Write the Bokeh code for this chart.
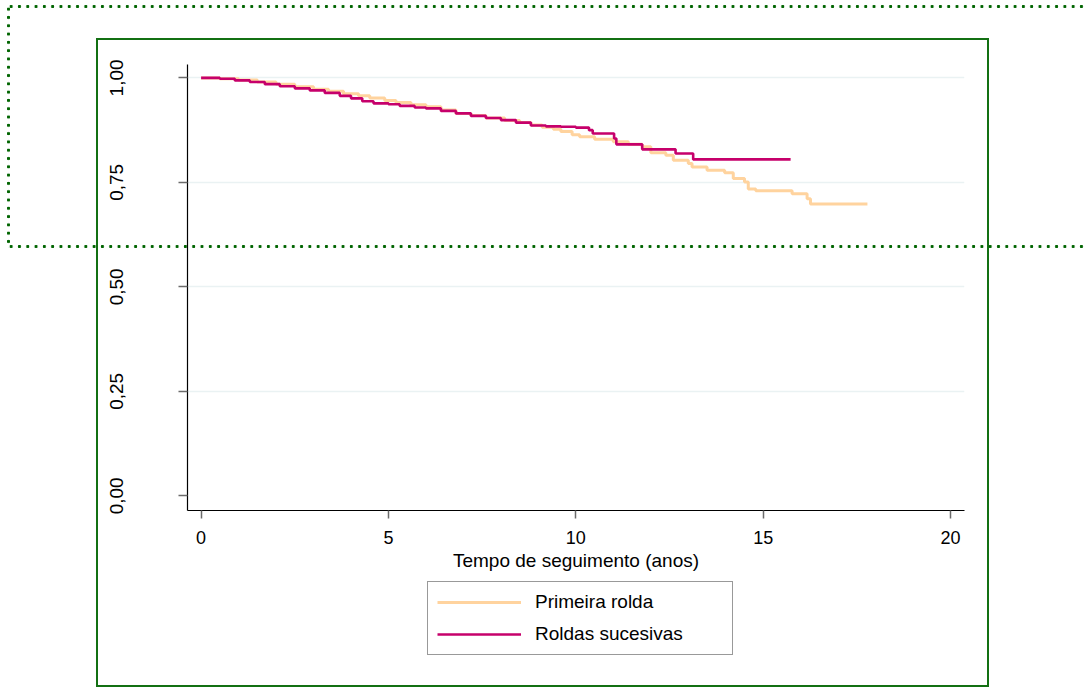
from bokeh.plotting import figure
from bokeh.layouts import column
from bokeh.models import (FixedTicker, Legend, LegendItem, Range1d, InlineStyleSheet)
from bokeh.embed import file_html
from bokeh.resources import INLINE

# Kaplan-Meier survival estimates by cohort
primeira_t = [0.0, 0.5, 1.0, 1.5, 2.0, 2.5, 3.0, 3.4, 3.8, 4.2, 4.5, 4.9, 5.2, 5.6, 6.0,
              6.4, 6.8, 7.2, 7.6, 8.1, 8.5, 8.8, 9.1, 9.4, 9.6, 9.9, 10.1, 10.5, 11.0,
              11.4, 11.77, 12.0, 12.4, 12.6, 13.0, 13.1, 13.5, 13.97, 14.2, 14.5, 14.6,
              14.8, 15.77, 16.17, 16.26, 17.78]
primeira_s = [1.000, 0.998, 0.995, 0.990, 0.985, 0.979, 0.973, 0.968, 0.962, 0.957, 0.952,
              0.946, 0.941, 0.936, 0.931, 0.923, 0.915, 0.910, 0.904, 0.898, 0.893, 0.887,
              0.882, 0.877, 0.872, 0.864, 0.859, 0.853, 0.847, 0.841, 0.835, 0.821, 0.815,
              0.803, 0.795, 0.787, 0.779, 0.773, 0.759, 0.751, 0.734, 0.730, 0.723, 0.711,
              0.698, 0.698]

sucesivas_t = [0.0, 0.5, 0.9, 1.3, 1.7, 2.1, 2.5, 2.9, 3.3, 3.7, 4.0, 4.3, 4.6, 5.0, 5.3,
               5.7, 6.0, 6.4, 6.8, 7.2, 7.6, 8.0, 8.4, 8.8, 9.2, 9.6, 10.0, 10.35, 10.45,
               11.02, 11.08, 11.77, 12.66, 13.13, 15.73]
sucesivas_s = [1.000, 0.998, 0.994, 0.990, 0.985, 0.980, 0.975, 0.970, 0.964, 0.957, 0.951,
               0.944, 0.939, 0.937, 0.933, 0.929, 0.927, 0.921, 0.915, 0.909, 0.904, 0.899,
               0.893, 0.886, 0.884, 0.883, 0.881, 0.875, 0.867, 0.855, 0.841, 0.829, 0.819,
               0.805, 0.805]

y_ticks = [0.0, 0.25, 0.5, 0.75, 1.0]
y_tick_labels = ["0,00", "0,25", "0,50", "0,75", "1,00"]
x_ticks = [0, 5, 10, 15, 20]
series_names = ["Primeira rolda", "Roldas sucesivas"]
series_colors = ["#FFD39E", "#C6006B"]
series_widths = [3, 2.6]

FONT = "Liberation Sans"

# ---- survival curves ----
p = figure(frame_width=777, frame_height=446, output_backend="svg", toolbar_location=None,
           x_range=Range1d(-0.363, 20.37), y_range=Range1d(-0.035, 1.032),
           min_border_left=187, min_border_right=122, min_border_top=64,
           min_border_bottom=70)
p.outline_line_color = None
p.background_fill_color = "white"
p.border_fill_color = None

p.step(primeira_t, primeira_s, mode="after",
       line_color=series_colors[0], line_width=series_widths[0])
p.step(sucesivas_t, sucesivas_s, mode="after",
       line_color=series_colors[1], line_width=series_widths[1])

p.xgrid.visible = False
p.ygrid.ticker = FixedTicker(ticks=[0.25, 0.5, 0.75, 1.0])
p.ygrid.grid_line_color = "#EAF2F3"
p.ygrid.grid_line_width = 1.5

p.yaxis.ticker = FixedTicker(ticks=y_ticks)
p.yaxis.major_label_overrides = {t: l for t, l in zip(y_ticks, y_tick_labels)}
p.yaxis.major_label_orientation = "vertical"
p.yaxis.major_label_text_font = FONT
p.yaxis.major_label_text_font_size = "19px"
p.yaxis.major_label_text_color = "black"
p.yaxis.major_label_standoff = 55
p.yaxis.major_tick_out = 9
p.yaxis.major_tick_in = 0
p.yaxis.minor_tick_line_color = None
p.yaxis.major_tick_line_color = "#6b6b6b"
p.yaxis.major_tick_line_width = 1.5
p.yaxis.axis_line_color = "black"
p.yaxis.axis_line_width = 1.2

p.xaxis.ticker = FixedTicker(ticks=x_ticks)
p.xaxis.major_label_text_font = FONT
p.xaxis.major_label_text_font_size = "18px"
p.xaxis.major_label_text_color = "black"
p.xaxis.major_label_standoff = 12
p.xaxis.major_tick_out = 8
p.xaxis.major_tick_in = 0
p.xaxis.minor_tick_line_color = None
p.xaxis.major_tick_line_color = "#6b6b6b"
p.xaxis.major_tick_line_width = 1.5
p.xaxis.axis_line_color = "black"
p.xaxis.axis_line_width = 1.2
p.xaxis.axis_label = "Tempo de seguimento (anos)"
p.xaxis.axis_label_text_font = FONT
p.xaxis.axis_label_text_font_size = "19px"
p.xaxis.axis_label_text_font_style = "normal"
p.xaxis.axis_label_text_color = "black"
p.xaxis.axis_label_standoff = 3

# ---- legend strip under the graph ----
# the key renderers carry the same series but sit outside this strip's ranges
leg = figure(width=1086, height=109, output_backend="svg", toolbar_location=None,
             x_range=Range1d(-10, -9), y_range=Range1d(-10, -9),
             min_border_left=0, min_border_right=0, min_border_top=0, min_border_bottom=0,
             x_axis_type=None, y_axis_type=None)
leg.outline_line_color = None
leg.xgrid.visible = False
leg.ygrid.visible = False
leg.background_fill_color = None
leg.border_fill_color = None
keys = [leg.step(t, s, mode="after", line_color=c, line_width=w)
        for t, s, c, w in zip([primeira_t, sucesivas_t], [primeira_s, sucesivas_s],
                              series_colors, series_widths)]

legend = Legend(items=[LegendItem(label=n, renderers=[k]) for n, k in zip(series_names, keys)],
                location=(240, 34), orientation="vertical")
legend.label_text_font = FONT
legend.label_text_font_size = "19px"
legend.label_text_color = "black"
legend.glyph_width = 84
legend.glyph_height = 20
legend.label_height = 20
legend.label_width = 188
legend.label_standoff = 14
legend.spacing = 10
legend.padding = 9
legend.margin = 0
legend.border_line_color = "#333333"
legend.border_line_width = 1
legend.background_fill_color = "white"
legend.background_fill_alpha = 1
leg.add_layout(legend, "center")

page = column(p, leg, spacing=0)

# graph-region frame (solid) and highlight box (dotted), drawn over the canvas
dot = "radial-gradient(circle, #006400 1.3px, rgba(0,100,0,0) 1.9px)"
page.stylesheets = [InlineStyleSheet(css=f"""
:host {{ background: white; }}
:host::before {{
  content: ""; position: absolute; box-sizing: border-box;
  left: 96px; top: 38px; width: 893px; height: 649px;
  border: 2px solid #137013; pointer-events: none; z-index: 50;
}}
:host::after {{
  content: ""; position: absolute; box-sizing: border-box;
  left: 7.2px; top: 4.8px; width: 1100px; height: 243px;
  background: {dot} 0 0 / 8.3px 3px repeat-x,
              {dot} 0 100% / 8.3px 3px repeat-x,
              {dot} 0 0 / 3px 8.3px repeat-y;
  pointer-events: none; z-index: 60;
}}
""")]

open("out.html", "w").write(file_html(page, INLINE))
